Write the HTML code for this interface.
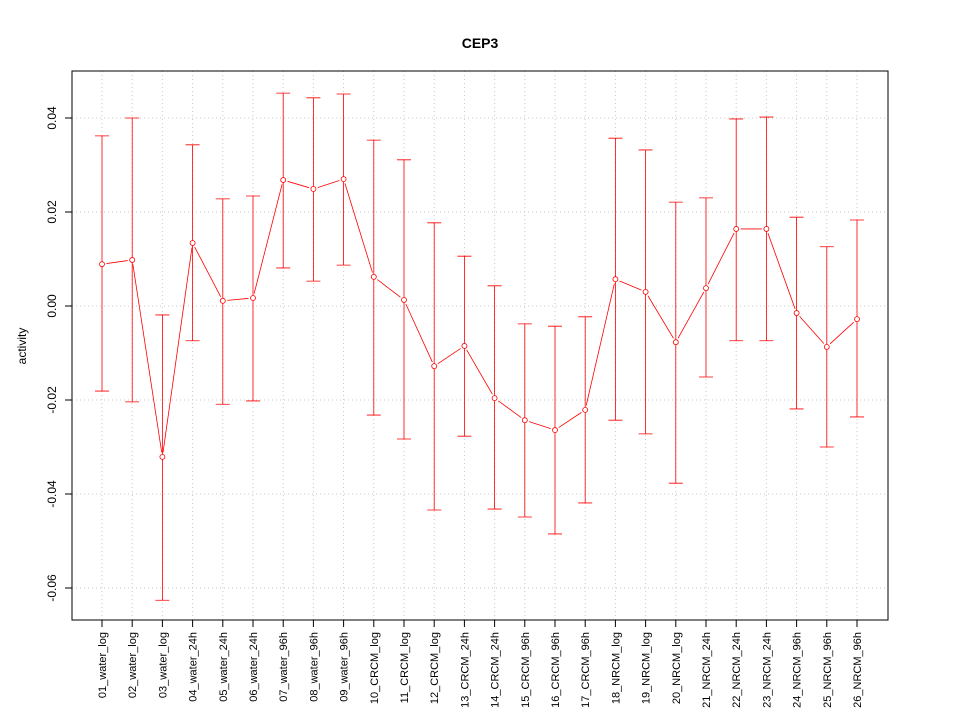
<!DOCTYPE html>
<html><head><meta charset="utf-8"><style>
body{margin:0;background:#fff}
svg{display:block;font-family:"Liberation Sans",Arial,sans-serif}
</style></head><body>
<svg id="chart" width="960" height="720" viewBox="0 0 960 720">
<rect x="0" y="0" width="960" height="720" fill="#fff"/>
<text x="480" y="48" text-anchor="middle" font-size="14" font-weight="bold">CEP3</text>
<text transform="translate(26,346) rotate(-90)" text-anchor="middle" font-size="12">activity</text>
<g id="grid"></g><g id="axes"></g><g id="series"></g>
<rect x="72" y="71" width="816" height="549" fill="none" stroke="#000"/>
</svg>
<script>
const categories=["01_water_log","02_water_log","03_water_log","04_water_24h","05_water_24h","06_water_24h","07_water_96h","08_water_96h","09_water_96h","10_CRCM_log","11_CRCM_log","12_CRCM_log","13_CRCM_24h","14_CRCM_24h","15_CRCM_96h","16_CRCM_96h","17_CRCM_96h","18_NRCM_log","19_NRCM_log","20_NRCM_log","21_NRCM_24h","22_NRCM_24h","23_NRCM_24h","24_NRCM_96h","25_NRCM_96h","26_NRCM_96h"];
const means=[0.0089,0.0098,-0.0321,0.0134,0.0011,0.0017,0.0268,0.0249,0.027,0.0062,0.0013,-0.0128,-0.0085,-0.0196,-0.0243,-0.0264,-0.0221,0.0057,0.003,-0.0077,0.0038,0.0164,0.0164,-0.0015,-0.0087,-0.0028];
const uppers=[0.0362,0.040,-0.0019,0.0343,0.0228,0.0234,0.0453,0.0443,0.0451,0.0353,0.0311,0.0177,0.0106,0.0043,-0.0038,-0.0043,-0.0023,0.0357,0.0332,0.0221,0.023,0.0398,0.0402,0.0189,0.0126,0.0183];
const lowers=[-0.0181,-0.0204,-0.0626,-0.0074,-0.0209,-0.0202,0.0081,0.0053,0.0087,-0.0232,-0.0283,-0.0434,-0.0277,-0.0432,-0.0449,-0.0485,-0.0419,-0.0243,-0.0272,-0.0377,-0.0151,-0.0074,-0.0074,-0.0219,-0.030,-0.0236];
const yTicks=[-0.06,-0.04,-0.02,0.00,0.02,0.04];
const yTickLabels=["-0.06","-0.04","-0.02","0.00","0.02","0.04"];
const NS="http://www.w3.org/2000/svg";
const yS=v=>306-v*4700;
const xS=i=>102+i*(755/(categories.length-1));
function mk(p,tag,a){const e=document.createElementNS(NS,tag);for(const k in a)e.setAttribute(k,a[k]);p.appendChild(e);return e;}
const grid=document.getElementById('grid'),axes=document.getElementById('axes'),ser=document.getElementById('series');
yTicks.forEach((t,i)=>{
 const g=mk(grid,'line',{x1:72,x2:888,y1:yS(t),y2:yS(t),stroke:'#c8c8c8','stroke-dasharray':'1,3'});
 
 
 const tk=mk(axes,'line',{x1:65,x2:72,y1:yS(t),y2:yS(t),stroke:'#000'});
 
 
 const tx=mk(axes,'text',{transform:`translate(56,${yS(t)}) rotate(-90)`,'text-anchor':'middle','font-size':12});
 tx.textContent=yTickLabels[i];
 
 
});
categories.forEach((c,i)=>{
 const x=xS(i);
 const g=mk(grid,'line',{x1:x,x2:x,y1:71,y2:620,stroke:'#c8c8c8','stroke-dasharray':'1,3'});
 
 
 const tk=mk(axes,'line',{x1:x,x2:x,y1:620,y2:627,stroke:'#000'});
 
 
 const tx=mk(axes,'text',{transform:`translate(${x+4},632) rotate(-90)`,'text-anchor':'end','font-size':11});
 tx.textContent=c;
 
 
 const eb=mk(ser,'path',{d:`M${x-7},${yS(uppers[i])}H${x+7}M${x},${yS(uppers[i])}V${yS(lowers[i])}M${x-7},${yS(lowers[i])}H${x+7}`,stroke:'#f00',fill:'none','stroke-width':0.8});
 
 
});
for(let i=0;i<means.length-1;i++){
 const x1=xS(i),y1=yS(means[i]),x2=xS(i+1),y2=yS(means[i+1]);
 const dx=x2-x1,dy=y2-y1,L=Math.hypot(dx,dy),g=4.5;
 if(L<=2*g)continue;
 const seg=mk(ser,'line',{x1:x1+dx*g/L,y1:y1+dy*g/L,x2:x2-dx*g/L,y2:y2-dy*g/L,stroke:'#f00','stroke-width':0.8});
 
 
}
means.forEach((m,i)=>{
 const c=mk(ser,'circle',{cx:xS(i),cy:yS(m),r:2.5,fill:'#fff',stroke:'#f00','stroke-width':0.8});
 
 
});
</script>
</body></html>
